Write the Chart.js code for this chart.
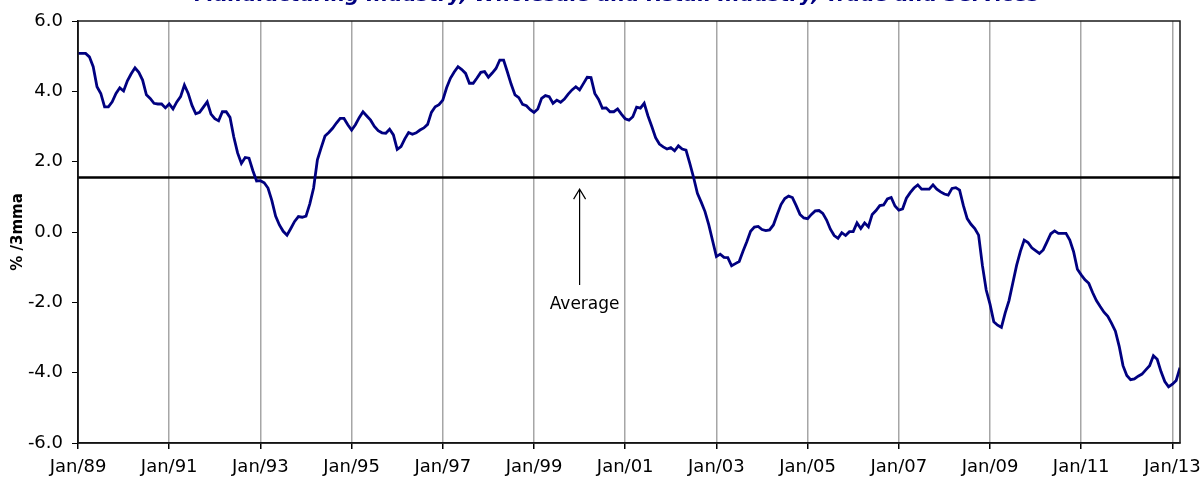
<!DOCTYPE html>
<html>
<head>
<meta charset="utf-8">
<title>Manufacturing Industry</title>
<script src="https://cdn.jsdelivr.net/npm/chart.js@4.4.0/dist/chart.umd.min.js"></script>
<style>
    html, body { margin: 0; padding: 0; background: #fff; }
    #chart { display: block; }
</style>
</head>
<body>
<canvas id="chart" width="1203" height="479"></canvas>
<script>
// title sits mostly above the picture, only its lower edge is visible
const chartTitle = 'Manufacturing Industry, Wholesale and Retail Industry, Trade and Services';
const yAxisTitle = '% /3mma';

// one x tick every 24 months, first month is Jan/89
const xTickLabels = ['Jan/89', 'Jan/91', 'Jan/93', 'Jan/95', 'Jan/97', 'Jan/99', 'Jan/01',
    'Jan/03', 'Jan/05', 'Jan/07', 'Jan/09', 'Jan/11', 'Jan/13'];
const monthsPerTick = 24;

// monthly values, % /3mma, Jan 1989 .. Mar 2013
const growth = [
    5.08, 5.08, 5.08, 4.98, 4.70, 4.13, 3.94, 3.56, 3.56, 3.70, 3.94, 4.10,        // 1989
    4.01, 4.30, 4.50, 4.67, 4.54, 4.32, 3.90, 3.80, 3.66, 3.64, 3.64, 3.53,        // 1990
    3.64, 3.50, 3.70, 3.85, 4.18, 3.94, 3.60, 3.36, 3.40, 3.55, 3.70, 3.35,        // 1991
    3.22, 3.16, 3.42, 3.42, 3.26, 2.70, 2.25, 1.95, 2.12, 2.10, 1.75, 1.45,        // 1992
    1.46, 1.40, 1.25, 0.90, 0.45, 0.20, 0.02, -0.09, 0.10, 0.30, 0.44, 0.42,       // 1993
    0.45, 0.80, 1.25, 2.05, 2.40, 2.73, 2.83, 2.95, 3.10, 3.23, 3.23, 3.05,        // 1994
    2.90, 3.05, 3.25, 3.42, 3.30, 3.18, 3.00, 2.88, 2.82, 2.81, 2.92, 2.76,        // 1995
    2.35, 2.43, 2.65, 2.83, 2.78, 2.82, 2.90, 2.96, 3.06, 3.40, 3.56, 3.62,        // 1996
    3.75, 4.10, 4.37, 4.55, 4.70, 4.62, 4.51, 4.23, 4.23, 4.38, 4.54, 4.56,        // 1997
    4.40, 4.52, 4.65, 4.89, 4.89, 4.55, 4.20, 3.90, 3.82, 3.63, 3.59, 3.48,        // 1998
    3.40, 3.50, 3.80, 3.88, 3.85, 3.66, 3.75, 3.69, 3.78, 3.92, 4.04, 4.13,        // 1999
    4.04, 4.22, 4.40, 4.39, 3.94, 3.77, 3.52, 3.53, 3.42, 3.42, 3.50, 3.35,        // 2000
    3.22, 3.18, 3.28, 3.55, 3.52, 3.66, 3.30, 3.00, 2.68, 2.50, 2.42, 2.36,        // 2001
    2.40, 2.31, 2.45, 2.36, 2.33, 1.95, 1.55, 1.10, 0.85, 0.58, 0.20, -0.25,       // 2002
    -0.70, -0.63, -0.72, -0.73, -0.96, -0.90, -0.84, -0.55, -0.28, 0.02, 0.14, 0.16, // 2003
    0.07, 0.04, 0.06, 0.20, 0.50, 0.78, 0.95, 1.02, 0.98, 0.75, 0.50, 0.40,        // 2004
    0.38, 0.50, 0.60, 0.61, 0.53, 0.34, 0.08, -0.10, -0.18, -0.02, -0.10, 0.01,    // 2005
    0.01, 0.26, 0.10, 0.26, 0.15, 0.50, 0.61, 0.75, 0.77, 0.94, 0.98, 0.74,        // 2006
    0.62, 0.66, 0.96, 1.12, 1.25, 1.34, 1.22, 1.22, 1.22, 1.34, 1.22, 1.14,        // 2007
    1.08, 1.05, 1.24, 1.26, 1.19, 0.75, 0.38, 0.22, 0.10, -0.09, -0.95, -1.65,     // 2008
    -2.05, -2.55, -2.65, -2.71, -2.30, -1.95, -1.45, -0.95, -0.55, -0.23, -0.30, -0.45, // 2009
    -0.53, -0.61, -0.51, -0.28, -0.05, 0.03, -0.04, -0.04, -0.04, -0.23, -0.56, -1.06, // 2010
    -1.22, -1.36, -1.46, -1.72, -1.95, -2.12, -2.28, -2.40, -2.60, -2.82, -3.25, -3.80, // 2011
    -4.08, -4.20, -4.18, -4.10, -4.04, -3.92, -3.80, -3.52, -3.62, -3.97, -4.25, -4.40, // 2012
    -4.33, -4.22, -3.86                                                              // 2013
];

const average = 1.55;
const averageLabel = 'Average';
// arrow annotation, in chart units (month index, value)
const arrowMonth = 132;
const arrowFrom = -1.51;
const arrowTo = 1.22;
const labelValue = -2.2;

const yMin = -6;
const yMax = 6;
const yStep = 2;

const fontFamily = "'DejaVu Sans', Verdana, sans-serif";
const navy = '#000080';

const lastMonth = growth.length - 1;

const extrasPlugin = {
    id: 'extras',
    afterDraw: function (chart) {
        const ctx = chart.ctx;
        const area = chart.chartArea;
        const xs = chart.scales.x;
        const ys = chart.scales.y;

        // plot area frame
        ctx.save();
        ctx.strokeStyle = '#1a1a1a';
        ctx.lineWidth = 1.5;
        ctx.strokeRect(area.left, area.top, area.right - area.left, area.bottom - area.top);

        // arrow pointing at the average line
        const ax = xs.getPixelForValue(arrowMonth);
        const y0 = ys.getPixelForValue(arrowFrom);
        const y1 = ys.getPixelForValue(arrowTo);
        ctx.strokeStyle = '#000';
        ctx.lineWidth = 1.2;
        ctx.beginPath();
        ctx.moveTo(ax, y0);
        ctx.lineTo(ax, y1);
        ctx.moveTo(ax - 6, y1 + 10);
        ctx.lineTo(ax, y1);
        ctx.lineTo(ax + 6, y1 + 10);
        ctx.stroke();

        ctx.fillStyle = '#000';
        ctx.font = '17px ' + fontFamily;
        ctx.textAlign = 'center';
        ctx.textBaseline = 'alphabetic';
        ctx.fillText(averageLabel, ax + 5, ys.getPixelForValue(labelValue));

        // title, cut by the top edge
        ctx.fillStyle = navy;
        ctx.font = 'italic bold 20px ' + fontFamily;
        ctx.fillText(chartTitle, 617, 1);
        ctx.restore();
    }
};

const ctx = document.getElementById('chart').getContext('2d');
new Chart(ctx, {
    type: 'line',
    data: {
        datasets: [{
            label: 'Growth',
            data: growth.map(function (v, i) { return { x: i, y: v }; }),
            borderColor: navy,
            borderWidth: 2.8,
            pointRadius: 0,
            tension: 0,
            fill: false
        }, {
            label: averageLabel,
            data: [{ x: 0, y: average }, { x: lastMonth, y: average }],
            borderColor: '#000',
            borderWidth: 2.6,
            pointRadius: 0,
            fill: false
        }]
    },
    options: {
        responsive: false,
        animation: false,
        layout: { padding: { top: 21, right: 23, left: 0, bottom: 0 } },
        plugins: {
            legend: { display: false },
            tooltip: { enabled: false }
        },
        scales: {
            x: {
                type: 'linear',
                min: 0,
                max: lastMonth,
                afterBuildTicks: function (scale) {
                    scale.ticks = xTickLabels.map(function (t, i) { return { value: i * monthsPerTick }; });
                },
                afterFit: function (scale) {
                    scale.height = 36;
                    scale.paddingLeft = 0;
                    scale.paddingRight = 0;
                },
                ticks: {
                    autoSkip: false,
                    maxRotation: 0,
                    padding: 8,
                    color: '#000',
                    font: { family: fontFamily, size: 18 },
                    callback: function (value) {
                        return xTickLabels[Math.round(value / monthsPerTick)];
                    }
                },
                grid: {
                    color: '#a6a6a6',
                    lineWidth: 1.5,
                    tickColor: '#000',
                    tickLength: 6
                },
                border: { color: '#000', width: 1.5 }
            },
            y: {
                min: yMin,
                max: yMax,
                afterFit: function (scale) {
                    scale.width = 78;
                    scale.paddingTop = 0;
                    scale.paddingBottom = 0;
                },
                ticks: {
                    stepSize: yStep,
                    padding: 9,
                    color: '#000',
                    font: { family: fontFamily, size: 18 },
                    callback: function (value) {
                        return value.toFixed(1);
                    }
                },
                grid: {
                    drawOnChartArea: false,
                    tickColor: '#000',
                    tickLength: 6
                },
                border: { color: '#000', width: 1.5 },
                title: {
                    display: true,
                    text: yAxisTitle,
                    color: '#000',
                    font: { family: fontFamily, size: 15, weight: 'bold' },
                    padding: { top: 9, bottom: 0 }
                }
            }
        }
    },
    plugins: [extrasPlugin]
});
</script>
</body>
</html>
